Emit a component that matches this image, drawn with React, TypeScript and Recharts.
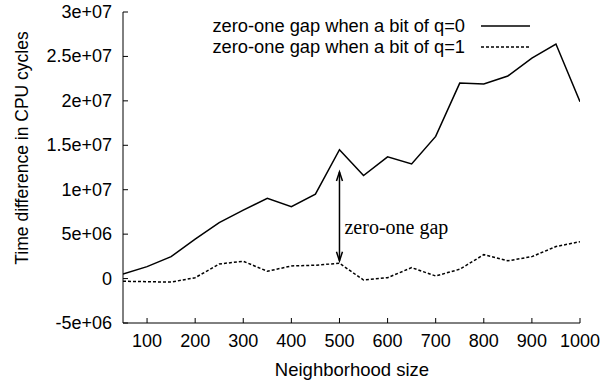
import React from "react";
import { LineChart, Line, XAxis, YAxis, Legend, ReferenceLine, ReferenceDot } from "recharts";

const neighborhoodSizes = [50, 100, 150, 200, 250, 300, 350, 400, 450, 500, 550, 600, 650, 700, 750, 800, 850, 900, 950, 1000];
const gapQ0 = [0.5e6, 1.34e6, 2.47e6, 4.45e6, 6.3e6, 7.7e6, 9.04e6, 8.1e6, 9.5e6, 14.5e6, 11.6e6, 13.7e6, 12.9e6, 16.0e6, 22.0e6, 21.9e6, 22.8e6, 24.8e6, 26.4e6, 19.9e6];
const gapQ1 = [-0.3e6, -0.35e6, -0.4e6, 0.1e6, 1.64e6, 1.95e6, 0.82e6, 1.42e6, 1.5e6, 1.72e6, -0.16e6, 0.1e6, 1.23e6, 0.29e6, 1.05e6, 2.69e6, 2.0e6, 2.47e6, 3.6e6, 4.15e6];
const xTicks = [100, 200, 300, 400, 500, 600, 700, 800, 900, 1000];
const yTicks = [-5e6, 0, 5e6, 10e6, 15e6, 20e6, 25e6, 30e6];
const seriesNames = ["zero-one gap when a bit of q=0", "zero-one gap when a bit of q=1"];
const arrowX = [500];
const arrowFromTo = [12.0e6, 2.0e6];
const annotationText = ["zero-one gap"];
const annotationY = [5.8e6];

const data = neighborhoodSizes.map((n, i) => ({ n, q0: gapQ0[i], q1: gapQ1[i] }));

const SANS = '"Liberation Sans", Arial, Helvetica, sans-serif';
const SERIF = '"Liberation Serif", "Times New Roman", serif';
const FS = 18;
const TICK = 5;

const fmtY = (v: number) => {
  if (v === 0) return "0";
  return v.toExponential().replace(/e([+-])(\d)$/, "e$10$2");
};

const BottomTick = (p: any) => (
  <g>
    <line x1={p.x} x2={p.x} y1={p.y} y2={p.y - TICK} stroke="#000" strokeWidth={1} />
    <text x={p.x} y={p.y + 18} textAnchor="middle" dominantBaseline="central" fontFamily={SANS} fontSize={FS} fill="#000">
      {p.payload.value}
    </text>
  </g>
);
const TopTick = (p: any) => (
  <line x1={p.x} x2={p.x} y1={p.y} y2={p.y + TICK} stroke="#000" strokeWidth={1} />
);
const LeftTick = (p: any) => (
  <g>
    <line x1={p.x} x2={p.x + TICK} y1={p.y} y2={p.y} stroke="#000" strokeWidth={1} />
    <text x={p.x - 11} y={p.y} textAnchor="end" dominantBaseline="central" fontFamily={SANS} fontSize={FS} fill="#000">
      {fmtY(p.payload.value)}
    </text>
  </g>
);
const RightTick = (p: any) => (
  <line x1={p.x} x2={p.x - TICK} y1={p.y} y2={p.y} stroke="#000" strokeWidth={1} />
);

const LegendContent = () => (
  <div style={{ fontFamily: SANS, fontSize: 18.3, lineHeight: "21px", color: "#000" }}>
    {seriesNames.map((name, i) => (
      <div key={name} style={{ display: "flex", alignItems: "center", justifyContent: "flex-end" }}>
        <span style={{ whiteSpace: "nowrap" }}>{name}</span>
        <svg width={49} height={10} style={{ marginLeft: 16, display: "block" }}>
          <line x1={0} x2={49} y1={5} y2={5} stroke="#000" strokeWidth={1.5} strokeDasharray={i === 1 ? "3 2" : undefined} />
        </svg>
      </div>
    ))}
  </div>
);

const ArrowShape = (p: any) => {
  const x = p.x1;
  const yTop = Math.min(p.y1, p.y2);
  const yBot = Math.max(p.y1, p.y2);
  return (
    <g>
      <line x1={x} x2={x} y1={yTop} y2={yBot} stroke="#000" strokeWidth={1.5} />
      <path d={`M${x - 3},${yTop + 9} L${x},${yTop} L${x + 3},${yTop + 9}`} fill="none" stroke="#000" strokeWidth={1.5} />
      <path d={`M${x - 3},${yBot - 9} L${x},${yBot} L${x + 3},${yBot - 9}`} fill="none" stroke="#000" strokeWidth={1.5} />
    </g>
  );
};

const AnnotationShape = (p: any) => (
  <text x={p.cx + 5} y={p.cy} dominantBaseline="central" fontFamily={SERIF} fontSize={20} fill="#000">
    {annotationText[0]}
  </text>
);

export default function App() {
  return (
    <div style={{ position: "absolute", left: 0, top: 0, width: 611, height: 383, background: "#fff" }}>
      <LineChart width={611} height={383} data={data} margin={{ top: 12, right: 31, bottom: 20, left: 23 }}>
        <XAxis
          xAxisId="bottom"
          dataKey="n"
          type="number"
          domain={[50, 1000]}
          ticks={xTicks}
          allowDataOverflow
          height={40}
          tickLine={false}
          tickSize={0}
          tickMargin={0}
          axisLine={{ stroke: "#000", strokeWidth: 1 }}
          tick={<BottomTick />}
          interval={0}
          label={(props: any) => (
            <text x={352} y={369} textAnchor="middle" dominantBaseline="central" fontFamily={SANS} fontSize={18.5} fill="#000">
              Neighborhood size
            </text>
          )}
        />
        <XAxis
          xAxisId="top"
          orientation="top"
          dataKey="n"
          type="number"
          domain={[50, 1000]}
          ticks={xTicks}
          allowDataOverflow
          height={0}
          tickLine={false}
          tickSize={0}
          tickMargin={0}
          axisLine={{ stroke: "#000", strokeWidth: 1 }}
          tick={<TopTick />}
          interval={0}
        />
        <YAxis
          yAxisId="left"
          type="number"
          domain={[-5e6, 30e6]}
          ticks={yTicks}
          allowDataOverflow
          width={100}
          tickLine={false}
          tickSize={0}
          tickMargin={0}
          axisLine={{ stroke: "#000", strokeWidth: 1 }}
          tick={<LeftTick />}
          interval={0}
          label={(props: any) => (
            <text x={22} y={148} transform="rotate(-90 22 148)" textAnchor="middle" dominantBaseline="central" fontFamily={SANS} fontSize={17.5} fill="#000">
              Time difference in CPU cycles
            </text>
          )}
        />
        <YAxis
          yAxisId="right"
          orientation="right"
          type="number"
          domain={[-5e6, 30e6]}
          ticks={yTicks}
          allowDataOverflow
          width={0}
          tickLine={false}
          tickSize={0}
          tickMargin={0}
          axisLine={{ stroke: "#000", strokeWidth: 1 }}
          tick={<RightTick />}
          interval={0}
        />
        <Legend
          layout="vertical"
          align="center"
          verticalAlign="middle"
          content={<LegendContent />}
          wrapperStyle={{ left: 0, top: 15, width: 530 }}
        />
        <Line xAxisId="bottom" yAxisId="left" dataKey="q0" name={seriesNames[0]} stroke="#000" strokeWidth={1.5} dot={false} isAnimationActive={false} />
        <Line xAxisId="bottom" yAxisId="left" dataKey="q1" name={seriesNames[1]} stroke="#000" strokeWidth={1.5} strokeDasharray="3 2" dot={false} isAnimationActive={false} />
        <Line xAxisId="top" yAxisId="right" dataKey="q0" stroke="none" dot={false} activeDot={false} legendType="none" isAnimationActive={false} />
        <ReferenceLine
          xAxisId="bottom"
          yAxisId="left"
          segment={[{ x: arrowX[0], y: arrowFromTo[0] }, { x: arrowX[0], y: arrowFromTo[1] }]}
          shape={<ArrowShape />}
        />
        <ReferenceDot xAxisId="bottom" yAxisId="left" x={arrowX[0]} y={annotationY[0]} r={0} shape={<AnnotationShape />} />
      </LineChart>
    </div>
  );
}
